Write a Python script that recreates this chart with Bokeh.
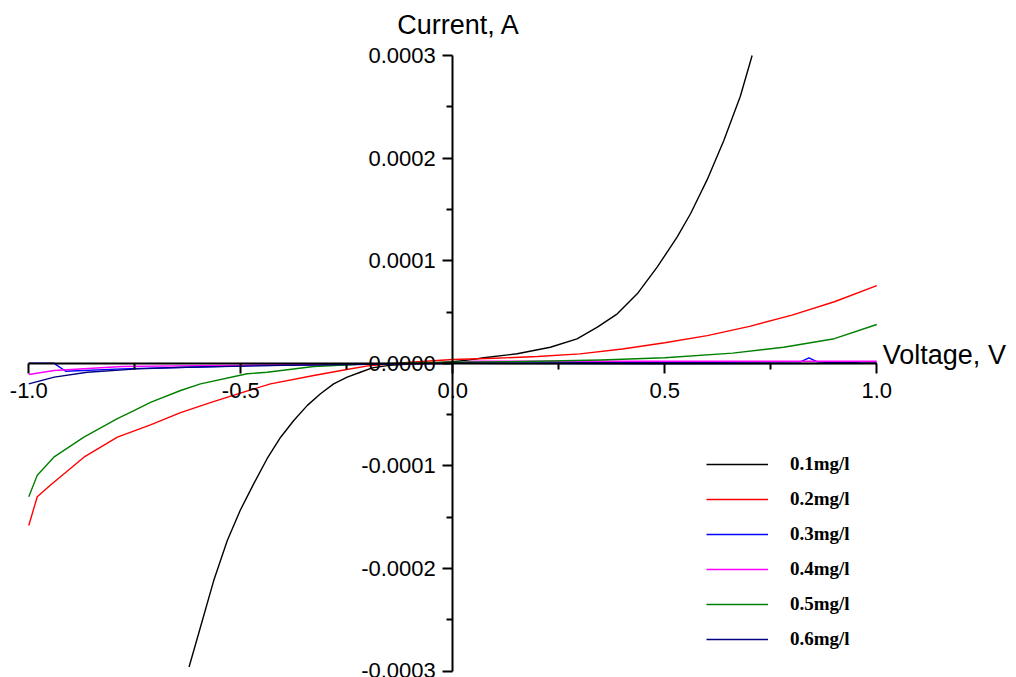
from bokeh.plotting import figure
from bokeh.models import (LinearAxis, FixedTicker, PrintfTickFormatter, Legend,
                          LegendItem, Label, Range1d)
from bokeh.embed import file_html
from bokeh.resources import INLINE

# ---------------- data (current in A, voltage in V) ----------------
x_01 = [-0.622, -0.595, -0.564, -0.532, -0.501, -0.469, -0.438, -0.406, -0.375,
        -0.343, -0.312, -0.281, -0.249, -0.218, -0.19, -0.15, -0.1, -0.05, 0.0,
        0.04, 0.073, 0.152, 0.23, 0.293, 0.341, 0.388, 0.435, 0.482, 0.529,
        0.561, 0.6, 0.639, 0.678, 0.706]
y_01 = [-296e-6, -257e-6, -212e-6, -173e-6, -143e-6, -117e-6, -93e-6, -72e-6,
        -55.7e-6, -41e-6, -29.7e-6, -20e-6, -13.5e-6, -8.7e-6, -4.4e-6, -2.0e-6,
        -0.6e-6, 0.4e-6, 1.5e-6, 3.4e-6, 5.4e-6, 9.3e-6, 15.7e-6, 23.9e-6,
        35.2e-6, 48.2e-6, 67.7e-6, 93.7e-6, 123e-6, 146e-6, 179e-6, 217e-6,
        260e-6, 300e-6]

x_02 = [-1.0, -0.98, -0.95, -0.87, -0.791, -0.713, -0.642, -0.57, -0.501, -0.43,
        -0.328, -0.25, -0.2, -0.1, 0.0, 0.1, 0.2, 0.3, 0.4, 0.5, 0.6, 0.7, 0.8,
        0.9, 1.0]
y_02 = [-158e-6, -130e-6, -119e-6, -91.5e-6, -72e-6, -60e-6, -48e-6, -38e-6,
        -29e-6, -20e-6, -11.9e-6, -6e-6, -2.5e-6, 1.0e-6, 3.7e-6, 5.0e-6, 6.6e-6,
        9.2e-6, 14e-6, 20e-6, 27e-6, 36e-6, 47e-6, 60e-6, 75.8e-6]

x_03 = [-1.0, -0.94, -0.913, -0.78, -0.627, -0.47, -0.2, 0.0, 0.3, 0.6, 0.82,
        0.84, 0.86, 0.9, 0.93, 0.96, 1.0]
y_03 = [0.0, 0.0, -7.7e-6, -5.4e-6, -3.8e-6, -2.1e-6, -1.0e-6, 0.0, 0.5e-6,
        1.0e-6, 1.5e-6, 5.4e-6, 1.5e-6, 0.5e-6, 1.0e-6, 0.3e-6, 0.0]

x_04 = [-1.0, -0.94, -0.78, -0.6, -0.4, -0.2, 0.0, 0.05, 0.3, 0.6, 0.9, 1.0]
y_04 = [-10.9e-6, -7e-6, -3.1e-6, -2.2e-6, -1.5e-6, -0.8e-6, 0.0, 2.0e-6,
        2.0e-6, 2.0e-6, 2.0e-6, 2.0e-6]

x_05 = [-1.0, -0.98, -0.941, -0.87, -0.791, -0.752, -0.713, -0.642, -0.595,
        -0.485, -0.438, -0.328, -0.28, -0.2, -0.1, 0.0, 0.2, 0.35, 0.5, 0.66,
        0.78, 0.9, 1.0]
y_05 = [-130e-6, -109e-6, -91.5e-6, -72e-6, -54e-6, -46e-6, -38e-6, -26.5e-6,
        -20e-6, -10.2e-6, -8.7e-6, -3.1e-6, -2.1e-6, -0.5e-6, 0.3e-6, 1.0e-6,
        2.0e-6, 3.2e-6, 5.4e-6, 9.9e-6, 15.7e-6, 24e-6, 37.8e-6]

x_06 = [-1.0, -0.94, -0.862, -0.744, -0.63, -0.4, -0.2, 0.0, 0.5, 1.0]
y_06 = [-20e-6, -13.5e-6, -8.7e-6, -5.4e-6, -3.8e-6, -2.0e-6, -1.0e-6, 0.0,
        -0.5e-6, 0.0]

series_names = ["0.1mg/l", "0.2mg/l", "0.3mg/l", "0.4mg/l", "0.5mg/l", "0.6mg/l"]
series_colors = ["#000000", "#ff0000", "#0000ff", "#ff00ff", "#008000", "#000080"]
series_x = [x_01, x_02, x_03, x_04, x_05, x_06]
series_y = [y_01, y_02, y_03, y_04, y_05, y_06]

x_bounds = (-1.0, 1.0)
y_bounds = (-0.0003, 0.0003)
x_ticks = [-1.0, -0.5, 0.0, 0.5, 1.0]
x_minor = [-0.75, -0.25, 0.25, 0.75]
y_ticks = [-0.0003, -0.0002, -0.0001, 0.0, 0.0001, 0.0002, 0.0003]
y_minor = [-0.00025, -0.00015, -0.00005, 0.00005, 0.00015, 0.00025]

# view window (the axes cross at the origin inside the full canvas)
x_view = (-1.0667, 1.3295)
y_view = (-3.062e-4, 3.536e-4)

# ---------------- figure ----------------
p = figure(width=1016, height=677, output_backend="svg", toolbar_location=None,
           x_range=Range1d(*x_view), y_range=Range1d(*y_view),
           x_axis_type=None, y_axis_type=None,
           min_border_left=0, min_border_right=0, min_border_top=0,
           min_border_bottom=0)
p.outline_line_color = None
p.xgrid.visible = False
p.ygrid.visible = False
p.background_fill_color = "white"
p.border_fill_color = "white"

renderers = []
for xs, ys, c in zip(series_x, series_y, series_colors):
    r = p.line(xs, ys, line_color=c, line_width=1.4, line_join="round")
    renderers.append(r)

tick_font = "Liberation Sans"

xaxis = LinearAxis(fixed_location=0, bounds=x_bounds,
                   ticker=FixedTicker(ticks=x_ticks, minor_ticks=x_minor),
                   formatter=PrintfTickFormatter(format="%.1f"))
yaxis = LinearAxis(fixed_location=0, bounds=y_bounds,
                   ticker=FixedTicker(ticks=y_ticks, minor_ticks=y_minor),
                   formatter=PrintfTickFormatter(format="%.4f"))
for ax in (xaxis, yaxis):
    ax.axis_line_width = 2
    ax.axis_line_color = "black"
    ax.major_tick_line_width = 2
    ax.minor_tick_line_width = 2
    ax.major_tick_line_color = "black"
    ax.minor_tick_line_color = "black"
    ax.major_tick_in = 0
    ax.minor_tick_in = 0
    ax.major_tick_out = 10
    ax.minor_tick_out = 6
    ax.major_label_text_font = tick_font
    ax.major_label_text_font_size = "22px"
    ax.major_label_text_color = "black"
xaxis.major_label_standoff = 10
yaxis.major_label_standoff = 7
p.add_layout(xaxis, "below")
p.add_layout(yaxis, "left")

p.add_layout(Label(x=1.0, y=0.0, x_units="data", y_units="data", text="Voltage, V",
                   text_align="left", text_baseline="middle", x_offset=6, y_offset=8,
                   text_font=tick_font, text_font_size="27px", text_color="black"))
p.add_layout(Label(x=0.0, y=0.0003, x_units="data", y_units="data", text="Current, A",
                   text_align="center", text_baseline="middle", x_offset=6, y_offset=30,
                   text_font=tick_font, text_font_size="27px", text_color="black"))

legend = Legend(items=[LegendItem(label=n, renderers=[r])
                       for n, r in zip(series_names, renderers)],
                location=(706, 27), orientation="vertical",
                padding=0, margin=0, spacing=13, glyph_width=62, glyph_height=20,
                label_height=20, label_standoff=22,
                label_text_font="Liberation Serif", label_text_font_style="bold",
                label_text_font_size="19px", label_text_color="black",
                border_line_color=None, background_fill_alpha=0)
p.add_layout(legend, "center")

open("out.html", "w").write(file_html(p, INLINE))
